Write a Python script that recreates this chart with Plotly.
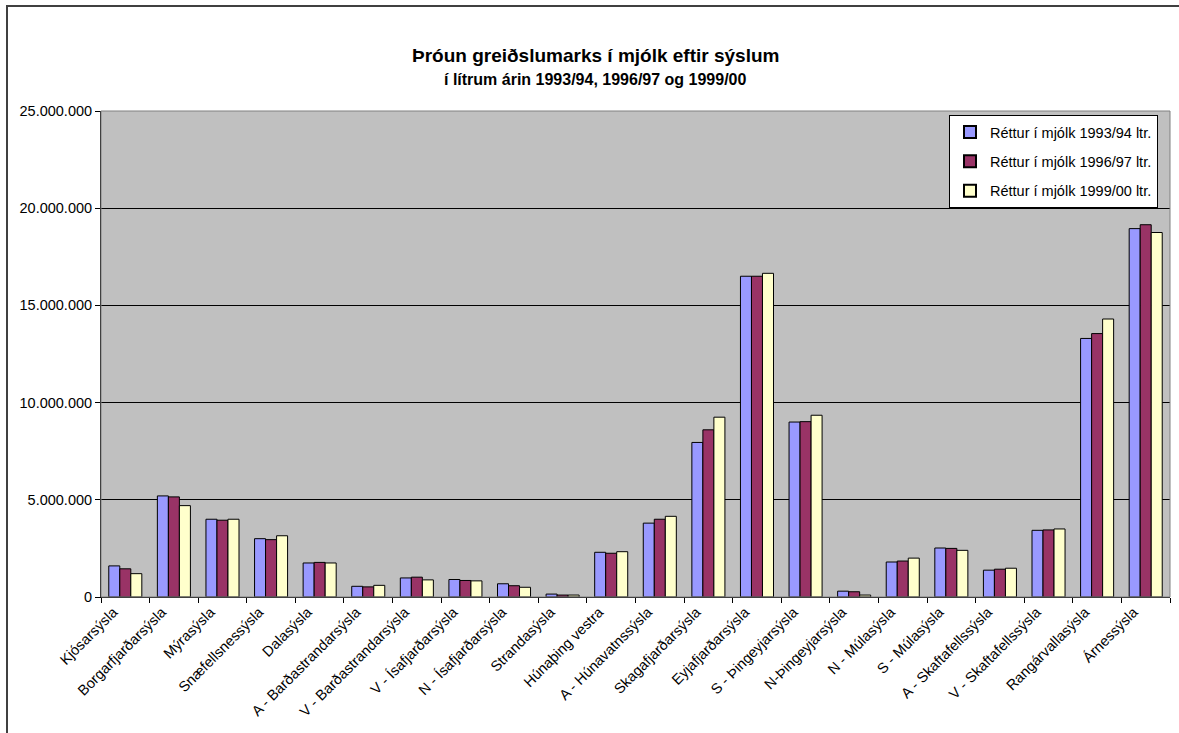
import plotly.graph_objects as go

categories = ["Kjósarsýsla", "Borgarfjarðarsýsla", "Mýrasýsla", "Snæfellsnessýsla", "Dalasýsla",
              "A - Barðastrandarsýsla", "V - Barðastrandarsýsla", "V - Ísafjarðarsýsla",
              "N - Ísafjarðarsýsla", "Strandasýsla", "Húnaþing vestra", "A - Húnavatnssýsla",
              "Skagafjarðarsýsla", "Eyjafjarðarsýsla", "S - Þingeyjarsýsla", "N-Þingeyjarsýsla",
              "N - Múlasýsla", "S - Múlasýsla", "A - Skaftafellssýsla", "V - Skaftafellssýsla",
              "Rangárvallasýsla", "Árnessýsla"]

v_9394 = [1600000, 5200000, 4000000, 3000000, 1750000, 550000, 980000, 900000, 680000, 150000,
          2300000, 3800000, 7950000, 16500000, 9000000, 300000, 1800000, 2520000, 1380000,
          3430000, 13300000, 18950000]
v_9697 = [1450000, 5150000, 3950000, 2950000, 1780000, 520000, 1020000, 850000, 580000, 100000,
          2250000, 4000000, 8600000, 16500000, 9020000, 270000, 1850000, 2500000, 1430000,
          3450000, 13550000, 19150000]
v_9900 = [1200000, 4700000, 4000000, 3150000, 1750000, 600000, 880000, 830000, 500000, 100000,
          2330000, 4150000, 9250000, 16650000, 9350000, 100000, 2000000, 2400000, 1480000,
          3500000, 14300000, 18750000]

series_names = ["Réttur í mjólk 1993/94 ltr.", "Réttur í mjólk 1996/97 ltr.", "Réttur í mjólk 1999/00 ltr."]
colors = ["#9999FF", "#993366", "#FFFFCC"]
ytick_vals = [0, 5000000, 10000000, 15000000, 20000000, 25000000]
ytick_text = ["0", "5.000.000", "10.000.000", "15.000.000", "20.000.000", "25.000.000"]

fig = go.Figure()
for i, (name, vals, col) in enumerate(zip(series_names, [v_9394, v_9697, v_9900], colors)):
    fig.add_trace(go.Bar(x=categories, y=vals, name=name, legendgroup=f"g{i}",
                         marker=dict(color=col, line=dict(color="black", width=1))))

L, R, T, B = 101, 9, 111, 136
W, H = 1179, 733
pw = W - L - R
ph = H - T - B

def px_x(p):
    return (p - L) / pw

def px_y(p):
    return (H - B - p) / ph

FONT = "Liberation Sans, Arial, sans-serif"

fig.update_layout(
    width=W, height=H,
    margin=dict(l=L, r=R, t=T, b=B),
    paper_bgcolor="white",
    plot_bgcolor="#C0C0C0",
    barmode="group",
    bargap=0.32,
    bargroupgap=0,
    font=dict(family=FONT, size=14.5, color="black"),
    showlegend=True,
    legend=dict(x=px_x(949), y=px_y(115), xanchor="left", yanchor="top",
                bgcolor="white", bordercolor="black", borderwidth=1,
                font=dict(size=14.5), tracegroupgap=7.5, itemsizing="constant",
                itemwidth=30),
    xaxis=dict(tickangle=-45, tickson="boundaries", ticks="outside", ticklen=5,
               tickcolor="black", showline=True, linecolor="black", linewidth=1,
               tickfont=dict(size=14.5), showgrid=False, mirror=False,
               ticklabelshift=-12),
    yaxis=dict(range=[0, 25000000], tickvals=ytick_vals, ticktext=ytick_text,
               ticks="outside", ticklen=5, tickcolor="black", showline=True,
               linecolor="black", linewidth=1, showgrid=True, gridcolor="black",
               gridwidth=1, tickfont=dict(size=14.5), zeroline=False),
    annotations=[
        dict(text="<b>Þróun greiðslumarks í mjólk eftir sýslum</b>", x=px_x(595), xref="paper",
             y=px_y(55), yref="paper", showarrow=False, font=dict(size=19),
             xanchor="center", yanchor="middle"),
        dict(text="<b>í lítrum árin 1993/94, 1996/97 og 1999/00</b>", x=px_x(595), xref="paper",
             y=px_y(79), yref="paper", showarrow=False, font=dict(size=16),
             xanchor="center", yanchor="middle"),
    ],
    shapes=[
        dict(type="rect", xref="paper", yref="paper", x0=px_x(7), x1=px_x(1190),
             y0=px_y(745), y1=px_y(6), line=dict(color="#404040", width=2), layer="above"),
        dict(type="rect", xref="paper", yref="paper", x0=0, x1=1, y0=0, y1=1,
             line=dict(color="#808080", width=1), layer="above"),
    ],
)

fig.write_html("out.html", post_script="document.body.style.margin='0px';",
               config={"displayModeBar": False})
